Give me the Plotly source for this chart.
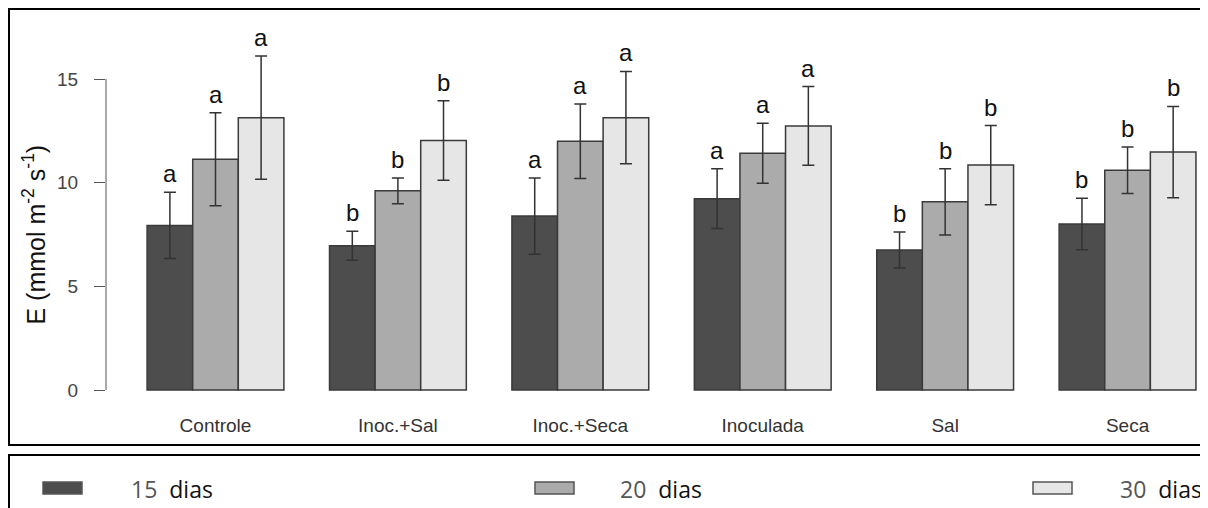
import plotly.graph_objects as go

# ---- data ----
categories = ["Controle", "Inoc.+Sal", "Inoc.+Seca", "Inoculada", "Sal", "Seca"]
series_names = ["15 dias", "20 dias", "30 dias"]
mean_15 = [7.94, 6.96, 8.39, 9.23, 6.75, 8.01]
mean_20 = [11.13, 9.61, 12.00, 11.42, 9.08, 10.60]
mean_30 = [13.14, 12.04, 13.14, 12.74, 10.85, 11.48]
err_15 = [1.60, 0.70, 1.84, 1.44, 0.87, 1.24]
err_20 = [2.24, 0.62, 1.80, 1.45, 1.60, 1.12]
err_30 = [2.97, 1.92, 2.23, 1.90, 1.91, 2.20]
letters_15 = ["a", "b", "a", "a", "b", "b"]
letters_20 = ["a", "b", "a", "a", "b", "b"]
letters_30 = ["a", "b", "a", "a", "b", "b"]
y_ticks = [0, 5, 10, 15]

means = [mean_15, mean_20, mean_30]
errs = [err_15, err_20, err_30]
letters = [letters_15, letters_20, letters_30]
colors = ["#4d4d4d", "#ababab", "#e6e6e6"]

# page body has an 8px margin; target positions below are window pixels
OFF = 8
W, H = 1200, 500
ML, MR, MT = 106 - OFF, 0, 20 - OFF
MB = H - (400 - OFF)
BARGAP = 0.25
n_series = len(series_names)

def px_x(p):
    return (p - OFF - ML) / (W - ML - MR)

def px_y(p):
    return (H - MB - (p - OFF)) / (H - MT - MB)

fig = go.Figure()
for j in range(n_series):
    fig.add_trace(go.Bar(
        x=categories, y=means[j], name=series_names[j],
        marker=dict(color=colors[j], line=dict(color="#3a3a3a", width=1.5)),
        error_y=dict(type="data", array=errs[j], visible=True,
                     color="#333333", thickness=1.5, width=6),
        showlegend=False,
    ))

annotations = []
bar_w = (1 - BARGAP) / n_series
for j in range(n_series):
    for i, cat in enumerate(categories):
        annotations.append(dict(
            x=i + (j - (n_series - 1) / 2) * bar_w, y=means[j][i] + errs[j][i],
            xref="x", yref="y", text=letters[j][i], showarrow=False,
            yanchor="bottom", yshift=3,
            font=dict(family="Liberation Sans, Arial", size=24, color="#111111"),
        ))

# y-axis title
annotations.append(dict(
    x=px_x(34), y=(y_ticks[0] + y_ticks[-1]) / 2, xref="paper", yref="y",
    xanchor="center", yanchor="middle",
    text="E (mmol m<sup>-2</sup> s<sup>-1</sup>)", textangle=-90, showarrow=False,
    font=dict(family="Liberation Sans, Arial", size=25, color="#111111"),
))

shapes = []
# y axis line spanning tick range
shapes.append(dict(type="line", xref="paper", yref="y", x0=0, x1=0,
                   y0=y_ticks[0], y1=y_ticks[-1],
                   line=dict(color="#555555", width=1)))
# outer frame and legend frame
shapes.append(dict(type="rect", xref="paper", yref="paper",
                   x0=px_x(9), x1=px_x(1230), y0=px_y(445), y1=px_y(9),
                   line=dict(color="#000000", width=2)))
shapes.append(dict(type="rect", xref="paper", yref="paper",
                   x0=px_x(9), x1=px_x(1230), y0=px_y(530), y1=px_y(455),
                   line=dict(color="#000000", width=2)))

# manual legend
legend_swatch_x = [43, 535, 1033]
legend_text_x = [129, 618, 1118]
for j in range(n_series):
    shapes.append(dict(type="rect", xref="paper", yref="paper",
                       x0=px_x(legend_swatch_x[j]), x1=px_x(legend_swatch_x[j] + 39),
                       y0=px_y(494), y1=px_y(482),
                       fillcolor=colors[j], line=dict(color="#555555", width=1.5)))
    num, word = series_names[j].split(" ")
    annotations.append(dict(
        x=px_x(legend_text_x[j]), y=px_y(489), xref="paper", yref="paper",
        xanchor="left", yanchor="middle", showarrow=False,
        text=f"<span style='color:#555555'>{num}</span>&nbsp;&nbsp;{word}",
        font=dict(family="Open Sans, Noto Sans", size=23, color="#111111"),
    ))

fig.update_layout(
    width=W, height=H,
    margin=dict(l=ML, r=MR, t=MT, b=MB, pad=0),
    paper_bgcolor="white", plot_bgcolor="white",
    barmode="group", bargap=BARGAP, bargroupgap=0,
    annotations=annotations, shapes=shapes,
    showlegend=False,
    xaxis=dict(type="category", range=[-0.6003, 5.441], showgrid=False,
               showline=False, ticks="", zeroline=False,
               tickfont=dict(family="Liberation Sans, Arial", size=19, color="#333333"),
               ticklabelstandoff=12),
    yaxis=dict(range=[-0.482, 17.85], tickvals=y_ticks, showgrid=False,
               showline=False, zeroline=False, ticks="outside", ticklen=11,
               tickcolor="#555555", tickwidth=1,
               tickfont=dict(family="Liberation Sans, Arial", size=19, color="#444444"),
               ticklabelstandoff=12),
)

fig.write_html("out.html")
